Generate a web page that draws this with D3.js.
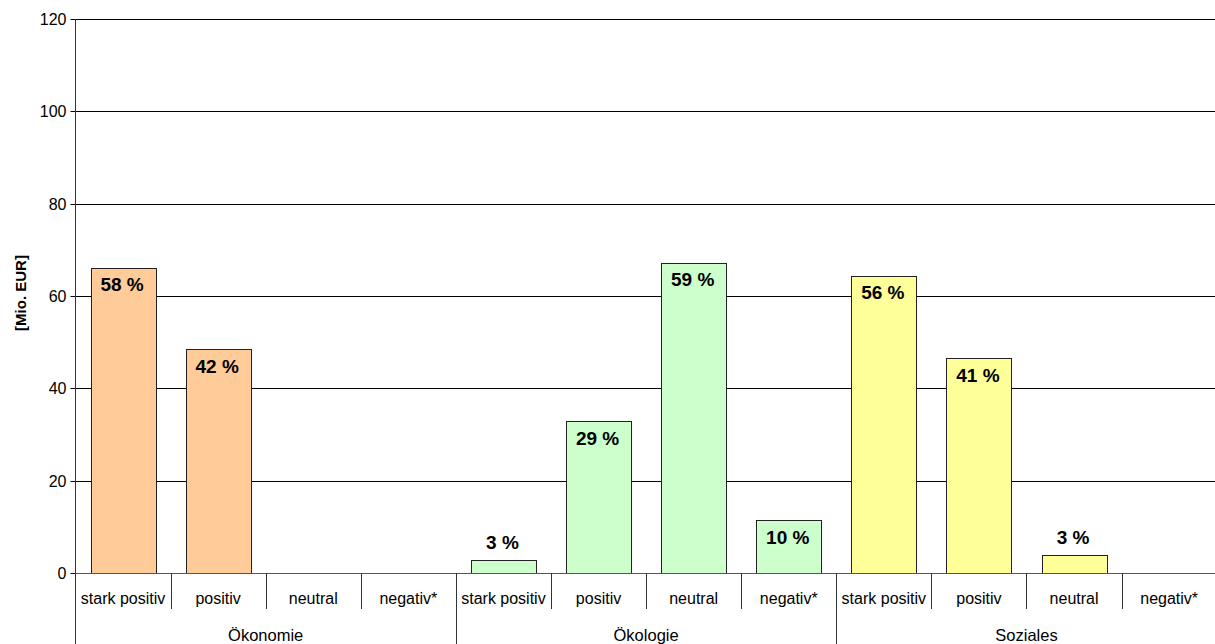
<!DOCTYPE html>
<html>
<head>
<meta charset="utf-8">
<script src="https://cdn.jsdelivr.net/npm/d3@7"></script>
<style>
  html, body { margin: 0; padding: 0; background: #fff; }
  svg { display: block; font-family: "Liberation Sans", Arial, sans-serif; }
</style>
</head>
<body>
<svg id="chart" width="1215" height="644"></svg>
<script>
// Dimension groups and rating categories
const groups = ["Ökonomie", "Ökologie", "Soziales"];
const ratings = ["stark positiv", "positiv", "neutral", "negativ*"];

// Volume per rating in Mio. EUR
const oekonomieValues = [66.1, 48.5, 0, 0];
const oekologieValues = [2.8, 32.9, 67.2, 11.5];
const sozialesValues = [64.4, 46.6, 3.9, 0];

// Share of the group total in percent (null = no label)
const oekonomieShares = [58, 42, null, null];
const oekologieShares = [3, 29, 59, 10];
const sozialesShares = [56, 41, 3, null];

const groupColors = ["#FFCC99", "#CCFFCC", "#FFFF99"];

const yTicks = [0, 20, 40, 60, 80, 100, 120];
const yTitle = "[Mio. EUR]";

const valuesByGroup = [oekonomieValues, oekologieValues, sozialesValues];
const sharesByGroup = [oekonomieShares, oekologieShares, sozialesShares];

const rows = [];
groups.forEach((g, gi) => {
  ratings.forEach((r, ri) => {
    rows.push({
      key: g + "|" + r,
      group: g,
      gi: gi,
      rating: r,
      value: valuesByGroup[gi][ri],
      share: sharesByGroup[gi][ri]
    });
  });
});

const svg = d3.select("#chart");
const plotLeft = 75.5, plotTop = 19, plotBottom = 573;
const viewRight = 1215;             // visible right edge of the gridlines
const bandRight = 75.5 + 12 * 95.1; // category bands run slightly past the edge

const x = d3.scaleBand()
  .domain(rows.map(d => d.key))
  .range([plotLeft, bandRight])
  .paddingInner(0.316)
  .paddingOuter(0.158);

const y = d3.scaleLinear().domain([0, 120]).range([plotBottom, plotTop]);

// Horizontal gridlines
svg.append("g")
  .selectAll("line")
  .data(yTicks.filter(t => t > 0))
  .join("line")
  .attr("x1", plotLeft).attr("x2", viewRight)
  .attr("y1", d => Math.round(y(d)) + 0.5)
  .attr("y2", d => Math.round(y(d)) + 0.5)
  .attr("stroke", "#000")
  .attr("stroke-width", 1);

// Y axis
const yAxis = d3.axisLeft(y).tickValues(yTicks).tickSize(5).tickPadding(4);
const gy = svg.append("g")
  .attr("transform", `translate(${plotLeft},0)`)
  .call(yAxis);
gy.select(".domain").remove();
gy.selectAll(".tick line").attr("stroke", "#000");
gy.selectAll(".tick text")
  .attr("font-size", 16)
  .attr("font-family", "Liberation Sans, Arial, sans-serif")
  .attr("fill", "#000");
gy.selectAll(".tick").attr("transform", d => `translate(0,${Math.round(y(d)) + 0.5})`);

// Vertical axis line, running down through the category label area
svg.append("line")
  .attr("x1", plotLeft).attr("x2", plotLeft)
  .attr("y1", plotTop).attr("y2", 644)
  .attr("stroke", "#333").attr("stroke-width", 1);

// Y axis title
svg.append("text")
  .attr("transform", `translate(26,293) rotate(-90)`)
  .attr("text-anchor", "middle")
  .attr("font-size", 15)
  .attr("font-weight", "bold")
  .text(yTitle);

// Bars
svg.append("g")
  .selectAll("rect")
  .data(rows.filter(d => d.value > 0))
  .join("rect")
  .attr("x", d => Math.round(x(d.key)) + 0.5)
  .attr("y", d => Math.round(y(d.value)) + 0.5)
  .attr("width", d => Math.round(x.bandwidth()))
  .attr("height", d => Math.round(y(0)) - Math.round(y(d.value)))
  .attr("fill", d => groupColors[d.gi])
  .attr("stroke", "#222")
  .attr("stroke-width", 1);

// Baseline
svg.append("line")
  .attr("x1", plotLeft).attr("x2", viewRight)
  .attr("y1", Math.round(y(0)) + 0.5).attr("y2", Math.round(y(0)) + 0.5)
  .attr("stroke", "#555").attr("stroke-width", 1);

// Percentage labels: inside the bar top, or above short bars
svg.append("g")
  .selectAll("text")
  .data(rows.filter(d => d.share !== null))
  .join("text")
  .attr("x", d => x(d.key) + x.bandwidth() / 2 - 1)
  .attr("y", d => {
    const h = y(0) - y(d.value);
    return h < 35 ? y(d.value) - 18 : y(d.value) + 17;
  })
  .attr("dy", "0.35em")
  .attr("text-anchor", "middle")
  .attr("font-size", 19)
  .attr("font-weight", "bold")
  .attr("fill", "#000")
  .text(d => d.share + " %");

// Category tick separators below the axis
const step = x.step();
const bounds = d3.range(1, rows.length + 1).map(i => plotLeft + i * step);
svg.append("g")
  .selectAll("line")
  .data(bounds)
  .join("line")
  .attr("x1", d => Math.round(d) + 0.5).attr("x2", d => Math.round(d) + 0.5)
  .attr("y1", plotBottom)
  .attr("y2", (d, i) => ((i + 1) % ratings.length === 0) ? 644 : 609)
  .attr("stroke", "#333").attr("stroke-width", 1);

// Rating labels
svg.append("g")
  .selectAll("text")
  .data(rows)
  .join("text")
  .attr("x", d => x(d.key) + x.bandwidth() / 2)
  .attr("y", 604)
  .attr("text-anchor", "middle")
  .attr("font-size", 16)
  .text(d => d.rating);

// Group labels
svg.append("g")
  .selectAll("text")
  .data(groups)
  .join("text")
  .attr("x", (g, i) => plotLeft + (i + 0.5) * ratings.length * step)
  .attr("y", 641)
  .attr("text-anchor", "middle")
  .attr("font-size", 16.5)
  .text(g => g);
</script>
</body>
</html>
